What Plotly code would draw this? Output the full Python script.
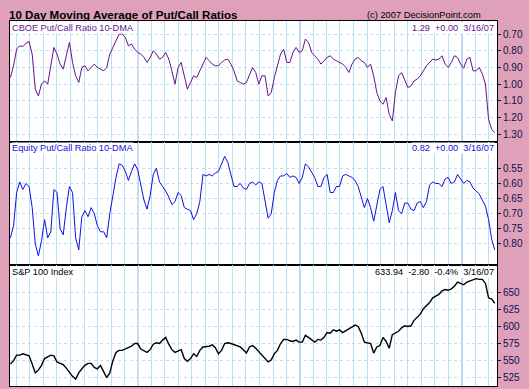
import pandas as pd
import plotly.graph_objects as go
from plotly.subplots import make_subplots

dates = pd.date_range("2004-03-19", "2007-03-16", freq="W-FRI")

cboe = [0.96, 0.89, 0.79, 0.77, 0.775, 0.755, 0.745, 0.82, 1.03, 1.07,
        1.00, 0.98, 1.00, 0.89, 0.78, 0.82, 0.88, 0.91, 0.83, 0.75,
        0.87, 0.95, 0.99, 0.90, 0.89, 0.92, 0.90, 0.88, 0.90, 0.91,
        0.92, 0.90, 0.82, 0.78, 0.74, 0.70, 0.70, 0.72, 0.77, 0.76,
        0.79, 0.81, 0.82, 0.84, 0.87, 0.84, 0.80, 0.82, 0.85, 0.84,
        0.81, 0.85, 0.92, 1.00, 0.90, 0.87, 0.95, 1.03, 0.99, 0.95,
        0.96, 0.92, 0.89, 0.84, 0.86, 0.88, 0.89, 0.89, 0.87, 0.855,
        0.85, 0.88, 0.92, 0.98, 0.99, 1.00, 0.99, 0.95, 0.90, 0.93,
        1.00, 0.95, 0.95, 1.07, 1.05, 0.96, 0.89, 0.82, 0.79, 0.87,
        0.87, 0.81, 0.78, 0.81, 0.80, 0.73, 0.75, 0.81, 0.83, 0.85,
        0.88, 0.86, 0.84, 0.83, 0.85, 0.86, 0.87, 0.88, 0.90, 0.93,
        0.88, 0.85, 0.84, 0.86, 0.87, 0.90, 0.88, 0.95, 1.05, 1.10,
        1.12, 1.08, 1.18, 1.22, 1.05, 0.95, 0.93, 0.98, 1.02, 1.01,
        0.98, 0.97, 0.95, 0.92, 0.89, 0.87, 0.85, 0.855, 0.85, 0.83,
        0.88, 0.90, 0.87, 0.83, 0.84, 0.88, 0.905, 0.85, 0.84, 0.92,
        0.92, 0.90, 0.94, 1.00, 1.21, 1.27, 1.29]

equity = [0.78, 0.74, 0.63, 0.595, 0.62, 0.60, 0.61, 0.68, 0.80, 0.84,
          0.79, 0.72, 0.78, 0.76, 0.62, 0.63, 0.75, 0.77, 0.68, 0.61,
          0.63, 0.78, 0.82, 0.71, 0.69, 0.71, 0.68, 0.70, 0.74, 0.76,
          0.76, 0.78, 0.70, 0.64, 0.58, 0.535, 0.54, 0.56, 0.59, 0.56,
          0.535, 0.555, 0.60, 0.655, 0.685, 0.64, 0.57, 0.55, 0.595, 0.61,
          0.625, 0.645, 0.67, 0.66, 0.63, 0.64, 0.68, 0.685, 0.69, 0.72,
          0.70, 0.66, 0.57, 0.575, 0.57, 0.575, 0.565, 0.56, 0.535, 0.51,
          0.53, 0.57, 0.61, 0.61, 0.60, 0.615, 0.62, 0.60, 0.595, 0.605,
          0.595, 0.60, 0.665, 0.715, 0.70, 0.63, 0.59, 0.575, 0.575, 0.567,
          0.58, 0.575, 0.58, 0.60, 0.58, 0.535, 0.545, 0.565, 0.58, 0.61,
          0.61, 0.58, 0.57, 0.63, 0.63, 0.61, 0.61, 0.575, 0.57, 0.575,
          0.58, 0.59, 0.61, 0.645, 0.68, 0.65, 0.68, 0.725, 0.67, 0.62,
          0.61, 0.665, 0.73, 0.69, 0.63, 0.69, 0.70, 0.665, 0.665, 0.685,
          0.69, 0.665, 0.66, 0.68, 0.66, 0.605, 0.595, 0.60, 0.60, 0.61,
          0.585, 0.58, 0.60, 0.595, 0.57, 0.585, 0.60, 0.59, 0.595, 0.615,
          0.625, 0.635, 0.655, 0.675, 0.72, 0.785, 0.82]

spx = [545, 550, 558, 558, 560, 558, 557, 545, 532, 536,
       543, 553, 556, 558, 557, 548, 546, 544, 539, 533,
       527, 523, 532, 538, 543, 546, 546, 540, 538, 543,
       535, 525, 532, 550, 562, 565, 565, 567, 569, 571,
       575, 575, 567, 565, 562, 566, 574, 576, 575, 580,
       584, 574, 566, 562, 564, 566, 553, 549, 553, 560,
       556, 565, 570, 570, 571, 573, 569, 560, 565, 575,
       576, 575, 573, 572, 570, 566, 561, 570, 572, 568,
       563, 558, 552, 548, 551, 560, 565, 575, 581, 581,
       579, 578, 580, 577, 577, 587, 584, 580, 577, 581,
       580, 584, 591, 590, 595, 593, 595, 591, 594, 597,
       599, 602, 600, 590, 577, 576, 575, 561, 570, 572,
       584, 578, 568, 588, 591, 593, 598, 601, 600, 601,
       609, 614, 618, 626, 630, 635, 642, 645, 647, 652,
       654, 653, 655, 659, 665, 663, 661, 665, 667, 668,
       670, 669, 669, 663, 642, 640, 633.94]

cboe_ticks = [0.70, 0.80, 0.90, 1.00, 1.10, 1.20, 1.30]
equity_ticks = [0.55, 0.60, 0.65, 0.70, 0.75, 0.80]
spx_ticks = [525, 550, 575, 600, 625, 650]
year_marks = ["2005-01-01", "2006-01-01", "2007-01-01"]

PINK = "#dea1b9"
GRID = "#b5e3f3"
FONT = "Liberation Sans, Arial, sans-serif"

fig = make_subplots(rows=3, cols=1, shared_xaxes=True, vertical_spacing=0,
                    row_heights=[120.5, 123.5, 121])

fig.add_trace(go.Scatter(x=dates, y=cboe, mode="lines",
                         line=dict(color="#66118f", width=1)), row=1, col=1)
fig.add_trace(go.Scatter(x=dates, y=equity, mode="lines",
                         line=dict(color="#1010e0", width=1)), row=2, col=1)
fig.add_trace(go.Scatter(x=dates, y=spx, mode="lines",
                         line=dict(color="#000000", width=1.4)), row=3, col=1)

xr = ["2004-03-18", "2007-03-21"]
for r in (1, 2, 3):
    fig.update_xaxes(row=r, col=1, range=xr, showgrid=True, gridcolor=GRID,
                     gridwidth=1, dtick="M1", tick0="2004-01-01",
                     showticklabels=False, ticks="", showline=True,
                     linecolor="black", linewidth=1, mirror=True, zeroline=False)

yfont = dict(family=FONT, size=10, color="#10104a")
fig.update_yaxes(row=1, col=1, range=[1.343, 0.622], tickvals=cboe_ticks,
                 tickformat=".2f")
fig.update_yaxes(row=2, col=1, range=[0.870, 0.461], tickvals=equity_ticks,
                 tickformat=".2f")
fig.update_yaxes(row=3, col=1, range=[512.8, 690], tickvals=spx_ticks)
for r in (1, 2, 3):
    fig.update_yaxes(row=r, col=1, side="right", ticks="outside", ticklen=3,
                     tickcolor="#10104a", tickfont=yfont, showgrid=True,
                     gridcolor=GRID, griddash="dot", showline=True,
                     linecolor="black", linewidth=1, mirror=True,
                     zeroline=False)

for d in year_marks:
    fig.add_shape(type="line", xref="x", yref="paper", x0=d, x1=d, y0=0, y1=1,
                  line=dict(color="#8585e6", width=1), layer="below")

lab = dict(family=FONT, size=9.2)
panels = [("y domain", "CBOE Put/Call Ratio 10-DMA", "1.29  +0.00  3/16/07", "#66118f"),
          ("y2 domain", "Equity Put/Call Ratio 10-DMA", "0.82  +0.00  3/16/07", "#1010e0"),
          ("y3 domain", "S&P 100 Index", "633.94  -2.80  -0.4%  3/16/07", "#000000")]
for yref, left, right, col in panels:
    fig.add_annotation(xref="paper", yref=yref, x=0.003, y=0.995, text=left,
                       showarrow=False, xanchor="left", yanchor="top",
                       font=dict(lab, color=col), bgcolor="white", borderpad=0)
    fig.add_annotation(xref="paper", yref=yref, x=0.996, y=0.995, text=right,
                       showarrow=False, xanchor="right", yanchor="top",
                       font=dict(lab, color=col), bgcolor="white", borderpad=0)

fig.add_annotation(xref="paper", yref="paper", x=0.971, y=1.017,
                   text="(c) 2007 DecisionPoint.com", showarrow=False,
                   xanchor="right", yanchor="middle",
                   font=dict(family=FONT, size=9.3, color="black"))

fig.update_layout(
    width=529, height=389,
    margin=dict(l=10, r=32, t=21, b=3),
    paper_bgcolor=PINK, plot_bgcolor="white",
    showlegend=False,
    title=dict(text="<b>10 Day Moving Average of Put/Call Ratios</b>",
               x=0.017, xanchor="left", y=0.962, yanchor="middle",
               font=dict(family=FONT, size=11.6, color="black")),
)

fig.write_html("out.html", config={"displayModeBar": False},
               post_script="document.body.style.margin='0';document.body.style.overflow='hidden';")
